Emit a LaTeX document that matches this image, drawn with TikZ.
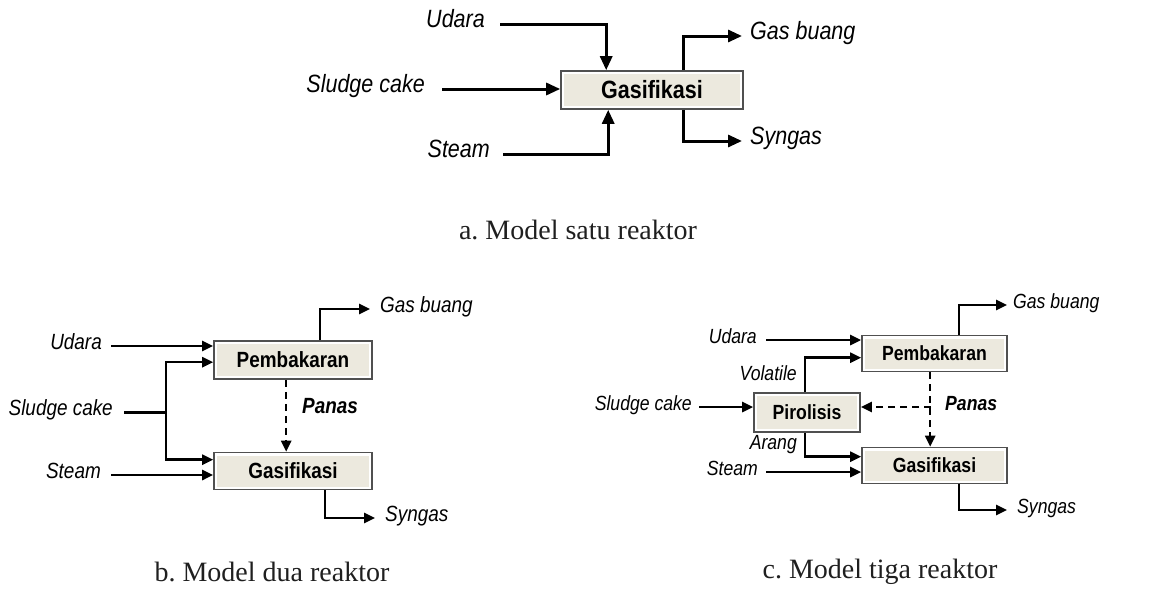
\documentclass[tikz,border=0pt]{standalone}
\usepackage{fontspec}
\setmainfont{Liberation Sans}[FakeStretch=0.86]
\newfontfamily\capfont{Liberation Serif}
\usetikzlibrary{arrows.meta}
\definecolor{boxfill}{RGB}{236,233,222}
\definecolor{boxline}{RGB}{80,80,80}
\newcommand\fsA{\fontsize{25}{30}\selectfont}
\newcommand\fsB{\fontsize{22}{26}\selectfont}
\newcommand\fsC{\fontsize{20.5}{24}\selectfont}
\newcommand\fsCap{\fontsize{28}{32}\selectfont\frenchspacing}
\begin{document}
\begin{tikzpicture}[x=1pt,y=-1pt,
  proc/.style={draw=boxline, line width=1.6pt, fill=white, inner sep=0pt,
    path picture={\fill[boxfill] ([shift={(3pt,-3pt)}]path picture bounding box.north west) rectangle ([shift={(-3pt,3pt)}]path picture bounding box.south east);}},
  lbl/.style={text height=0.72em, text depth=0pt, inner ysep=0pt},
  captxt/.style={font=\capfont\fsCap, text=black!88, inner sep=0pt},
  lwA/.style={line width=3pt},
  arA/.style={lwA, -{Triangle[length=14pt,width=12pt]}},
  lwB/.style={line width=2.5pt},
  arB/.style={lwB, -{Triangle[length=11pt,width=10pt]}},
  dashB/.style={line width=2.4pt, dash pattern=on 7pt off 5pt}
]
\useasboundingbox (0,0) rectangle (1155,597);

% ---------- a. one reactor ----------
\node[proc, minimum width=182pt, minimum height=38pt, font=\fsA\bfseries] (gasA) at (652,90) {Gasifikasi};
\node[lbl, font=\fsA\itshape, anchor=east, inner xsep=15pt] (udA) at (500,24) {Udara};
\node[lbl, font=\fsA\itshape, anchor=east, inner xsep=17pt] (slA) at (442,89) {Sludge cake};
\node[lbl, font=\fsA\itshape, anchor=east, inner xsep=13pt] (stA) at (503,154) {Steam};
\node[lbl, font=\fsA\itshape, anchor=west, inner xsep=8pt] (gbA) at (742,36) {Gas buang};
\node[lbl, font=\fsA\itshape, anchor=west, inner xsep=8pt] (sgA) at (742,141) {Syngas};
\draw[arA] (udA.east) -| ([xshift=46pt]gasA.north west);
\draw[arA] (slA.east) -- (slA.east -| gasA.west);
\draw[arA] (stA.east) -| ([xshift=48pt]gasA.south west);
\draw[arA] ([xshift=123pt]gasA.north west) |- (gbA.west);
\draw[arA] ([xshift=123pt]gasA.south west) |- (sgA.west);
\node[captxt] (capA) at (578,230) {a. Model satu reaktor};

% ---------- b. two reactors ----------
\node[proc, minimum width=158pt, minimum height=38pt, font=\fsB\bfseries] (pembB) at (293,360) {Pembakaran};
\node[proc, minimum width=158pt, minimum height=37pt, font=\fsB\bfseries] (gasB) at (293,471) {Gasifikasi};
\node[lbl, font=\fsB\itshape, anchor=east, inner xsep=9pt] (udB) at (111,346) {Udara};
\node[lbl, font=\fsB\itshape, anchor=east, inner xsep=11pt] (slB) at (124,412) {Sludge cake};
\node[lbl, font=\fsB\itshape, anchor=east, inner xsep=10pt] (stB) at (111,475) {Steam};
\node[lbl, font=\fsB\itshape, anchor=west, inner xsep=10pt] (gbB) at (370,309) {Gas buang};
\node[lbl, font=\fsB\itshape, anchor=west, inner xsep=10pt] (sgB) at (375,518) {Syngas};
\node[lbl, font=\fsB\bfseries\itshape, anchor=west, inner xsep=0pt] (panB) at (302,410) {Panas};
\coordinate (jB) at (166,412);
\draw[arB] (udB.east) -- (udB.east -| pembB.west);
\draw[lwB, line width=3pt] (slB.east) -- (jB);
\draw[arB] (jB) |- ([yshift=-22pt]pembB.north west);
\draw[arB] (jB) |- ([yshift=-8pt]gasB.north west);
\draw[arB] (stB.east) -- (stB.east -| gasB.west);
\draw[arB] ([xshift=107pt]pembB.north west) |- (gbB.west);
\draw[arB] ([xshift=112pt]gasB.south west) |- (sgB.west);
\draw[dashB, -{Triangle[length=11pt,width=10pt]}] ([xshift=73pt]pembB.south west) -- ([xshift=73pt]gasB.north west);
\node[captxt] (capB) at (272,572) {b. Model dua reaktor};

% ---------- c. three reactors ----------
\node[proc, minimum width=145pt, minimum height=36pt, font=\fsC\bfseries] (pembC) at (934.5,353.5) {Pembakaran};
\node[proc, minimum width=106pt, minimum height=39pt, font=\fsC\bfseries] (pirC) at (807,412.5) {Pirolisis};
\node[proc, minimum width=145pt, minimum height=36pt, font=\fsC\bfseries] (gasC) at (934.5,465.5) {Gasifikasi};
\node[lbl, font=\fsC\itshape, anchor=east, inner xsep=9pt] (udC) at (766,340) {Udara};
\node[lbl, font=\fsC\itshape, anchor=east, inner xsep=7pt] (slC) at (699,407) {Sludge cake};
\node[lbl, font=\fsC\itshape, anchor=east, inner xsep=8pt] (stC) at (766,472) {Steam};
\node[lbl, font=\fsC\itshape, anchor=east, inner xsep=0pt] (volC) at (797,377) {Volatile};
\node[lbl, font=\fsC\itshape, anchor=east, inner xsep=0pt] (arC) at (797,446) {Arang};
\node[lbl, font=\fsC\itshape, anchor=west, inner xsep=6pt] (gbC) at (1007,305) {Gas buang};
\node[lbl, font=\fsC\itshape, anchor=west, inner xsep=10pt] (sgC) at (1007,510) {Syngas};
\node[lbl, font=\fsC\bfseries\itshape, anchor=west, inner xsep=0pt] (panC) at (945,407) {Panas};
\coordinate (pC) at (931,407);
\draw[arB] (udC.east) -- (udC.east -| pembC.west);
\draw[arB] ([xshift=52pt]pirC.north west) |- ([yshift=-23pt]pembC.north west);
\draw[arB] (slC.east) -- (slC.east -| pirC.west);
\draw[arB] ([xshift=52pt]pirC.south west) |- ([yshift=-10pt]gasC.north west);
\draw[arB] (stC.east) -- (stC.east -| gasC.west);
\draw[arB] ([xshift=98pt]pembC.north west) |- (gbC.west);
\draw[arB] ([xshift=98pt]gasC.south west) |- (sgC.west);
\draw[dashB, -{Triangle[length=11pt,width=10pt]}] ([xshift=69pt]pembC.south west) -- ([xshift=69pt]gasC.north west);
\draw[dashB, -{Triangle[length=11pt,width=10pt]}] (pC) -- (pC -| pirC.east);
\node[captxt] (capC) at (880,572) {c. Model tiga reaktor};
\end{tikzpicture}
\end{document}
